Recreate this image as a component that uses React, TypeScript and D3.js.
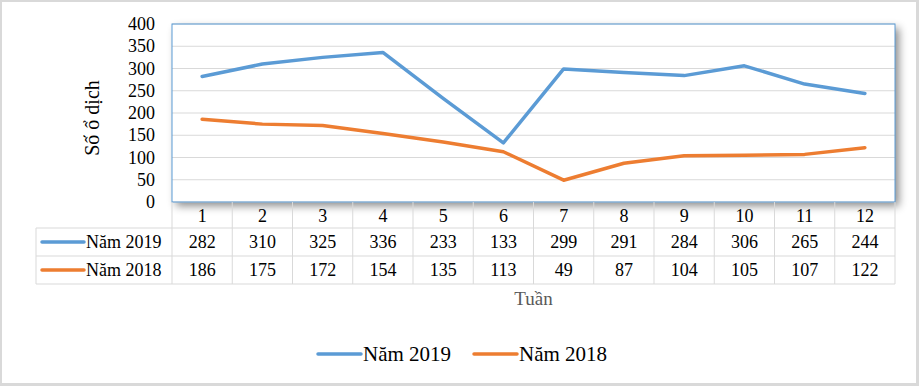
import * as d3 from "d3";

const weeks = ["1", "2", "3", "4", "5", "6", "7", "8", "9", "10", "11", "12"];
const series2019 = [282, 310, 325, 336, 233, 133, 299, 291, 284, 306, 265, 244];
const series2018 = [186, 175, 172, 154, 135, 113, 49, 87, 104, 105, 107, 122];
const seriesNames = ["Năm 2019", "Năm 2018"];
const seriesColors = ["#5b9bd5", "#ed7d31"];
const yTicks = [0, 50, 100, 150, 200, 250, 300, 350, 400];

export default function App() {
  const width = 919;
  const height = 386;
  const left = 172;
  const right = 895;
  const top = 24;
  const bottom = 202;
  const rowH = [26, 28, 28];
  const tableLeft = 36;
  const font = '"Liberation Serif", "DejaVu Serif", serif';

  const x = d3.scaleBand<string>().domain(weeks).range([left, right]);
  const y = d3.scaleLinear().domain([0, 400]).range([bottom, top]);
  const cx = (w: string) => (x(w) ?? 0) + x.bandwidth() / 2;

  const line = d3
    .line<number>()
    .x((_, i) => cx(weeks[i]))
    .y((v) => y(v));

  const allSeries = [series2019, series2018];
  const rowTop = [bottom, bottom + rowH[0], bottom + rowH[0] + rowH[1]];
  const tableBottom = rowTop[2] + rowH[2];

  return (
    <div style={{ position: "absolute", left: 0, top: 0, fontFamily: font }}>
      <svg width={width} height={height} style={{ display: "block", fontFamily: font }}>
        <defs>
          <filter id="shadow" x="-5%" y="-5%" width="115%" height="125%">
            <feDropShadow dx="4" dy="4" stdDeviation="4" floodColor="#000" floodOpacity="0.45" />
          </filter>
        </defs>
        <rect x={0} y={0} width={width} height={height} fill="#d9d9d9" />
        <rect x={2} y={2} width={width - 5} height={height - 5} fill="#fff" />

        {/* plot area */}
        <rect
          x={left}
          y={top}
          width={right - left}
          height={bottom - top}
          fill="#fff"
          filter="url(#shadow)"
        />
        {yTicks.map((t) => (
          <line key={t} x1={left} x2={right} y1={y(t)} y2={y(t)} stroke="#d9d9d9" strokeWidth={1} />
        ))}
        <rect
          x={left}
          y={top}
          width={right - left}
          height={bottom - top}
          fill="none"
          stroke="#5b9bd5"
          strokeWidth={1}
        />
        {allSeries.map((s, i) => (
          <path
            key={i}
            d={line(s) ?? ""}
            fill="none"
            stroke={seriesColors[i]}
            strokeWidth={3.5}
            strokeLinejoin="round"
            strokeLinecap="round"
          />
        ))}

        {/* y axis labels */}
        {yTicks.map((t) => (
          <text key={t} x={155} y={y(t) + 6} textAnchor="end" fontSize={18} fill="#000" style={{ fontFamily: font }}>
            {t}
          </text>
        ))}
        <text
          transform={`translate(99,118) rotate(-90)`}
          textAnchor="middle"
          fontSize={20}
          fill="#000"
          style={{ fontFamily: font }}
        >
          Số ổ dịch
        </text>

        {/* data table */}
        <g stroke="#d9d9d9" strokeWidth={1}>
          {[rowTop[1], rowTop[2], tableBottom].map((yy, i) => (
            <line key={i} x1={tableLeft} x2={right} y1={yy} y2={yy} />
          ))}
          <line x1={tableLeft} x2={tableLeft} y1={rowTop[1]} y2={tableBottom} />
          {weeks.map((w) => (
            <line key={w} x1={x(w)} x2={x(w)} y1={bottom} y2={tableBottom} />
          ))}
          <line x1={right} x2={right} y1={bottom} y2={tableBottom} />
        </g>
        {weeks.map((w) => (
          <text key={w} x={cx(w)} y={rowTop[0] + 20} textAnchor="middle" fontSize={18} style={{ fontFamily: font }}>
            {w}
          </text>
        ))}
        {allSeries.map((s, i) => (
          <g key={i}>
            <line
              x1={42}
              x2={84}
              y1={rowTop[i + 1] + 14}
              y2={rowTop[i + 1] + 14}
              stroke={seriesColors[i]}
              strokeWidth={3.5}
              strokeLinecap="round"
            />
            <text x={86} y={rowTop[i + 1] + 20} fontSize={18} style={{ fontFamily: font }}>
              {seriesNames[i]}
            </text>
            {s.map((v, j) => (
              <text
                key={j}
                x={cx(weeks[j])}
                y={rowTop[i + 1] + 20}
                textAnchor="middle"
                fontSize={18}
                style={{ fontFamily: font }}
              >
                {v}
              </text>
            ))}
          </g>
        ))}
        <text
          x={(left + right) / 2}
          y={305}
          textAnchor="middle"
          fontSize={19}
          fill="#595959"
          style={{ fontFamily: font }}
        >
          Tuần
        </text>

        {/* legend */}
        {seriesNames.map((n, i) => {
          const lx = i === 0 ? 318 : 474;
          return (
            <g key={n}>
              <line x1={lx} x2={lx + 43} y1={354} y2={354} stroke={seriesColors[i]} strokeWidth={3.5} strokeLinecap="round" />
              <text x={lx + 45} y={361} fontSize={21} style={{ fontFamily: font }}>
                {n}
              </text>
            </g>
          );
        })}
      </svg>
    </div>
  );
}
